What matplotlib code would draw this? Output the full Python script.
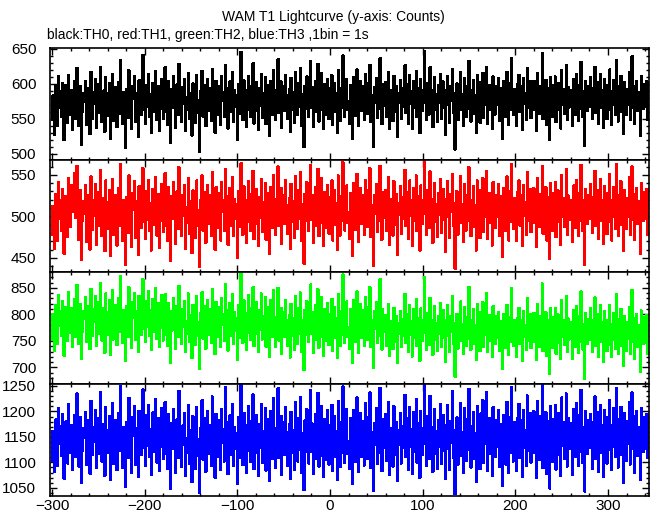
import numpy as np
import matplotlib
matplotlib.use("Agg")
import matplotlib.pyplot as plt
from matplotlib.ticker import MultipleLocator

plt.rcParams['font.family'] = ['Liberation Sans', 'DejaVu Sans']

title = "WAM T1 Lightcurve (y-axis: Counts)"
subtitle = "black:TH0, red:TH1, green:TH2, blue:TH3 ,1bin = 1s"
t_start = -300  # first bin (s)

# counts per 1 s bin (estimated)
th0 = [
    548, 583, 561, 527, 596, 572, 540, 610, 566, 589, 553, 601, 575, 519, 563, 598, 580, 544, 612, 570,
    556, 591, 534, 577, 604, 549, 568, 622, 585, 539, 571, 597, 512, 560, 586, 574, 603, 541, 565, 593,
    579, 528, 617, 562, 550, 588, 571, 606, 537, 582, 599, 558, 624, 567, 545, 576, 590, 531, 609, 573,
    554, 586, 600, 521, 569, 614, 547, 581, 563, 595, 538, 576, 602, 557, 633, 570, 542, 588, 566, 508,
    592, 574, 551, 619, 583, 560, 535, 597, 578, 611, 546, 569, 587, 524, 605, 572, 555, 594, 641, 562,
    580, 543, 598, 567, 613, 552, 585, 529, 575, 601, 560, 589, 618, 548, 571, 596, 533, 582, 607, 564,
    550, 578, 623, 559, 587, 541, 603, 573, 516, 592, 566, 610, 584, 537, 574, 599, 555, 628, 569, 582,
    545, 595, 571, 606, 532, 580, 562, 615, 549, 587, 573, 526, 600, 568, 591, 544, 612, 577, 558, 503,
    589, 564, 618, 553, 576, 598, 539, 583, 607, 561, 594, 572, 547, 621, 566, 585, 530, 604, 579, 556,
    597, 568, 541, 610, 575, 588, 552, 626, 563, 594, 536, 580, 603, 559, 573, 616, 546, 591, 567, 584,
    520, 599, 571, 557, 645, 582, 548, 605, 574, 590, 538, 563, 611, 578, 552, 596, 570, 629, 543, 586,
    561, 602, 579, 534, 593, 568, 614, 551, 587, 575, 609, 542, 566, 598, 583, 525, 604, 572, 556, 619,
    577, 548, 590, 565, 635, 558, 581, 603, 537, 574, 596, 561, 612, 584, 549, 570, 592, 531, 608, 563,
    588, 571, 544, 617, 579, 555, 600, 567, 622, 540, 585, 573, 509, 597, 564, 610, 576, 552, 589, 632,
    566, 595, 538, 581, 604, 559, 573, 628, 546, 590, 562, 615, 578, 535, 599, 571, 556, 607, 583, 549,
    593, 568, 612, 541, 577, 601, 560, 586, 530, 619, 572, 547, 594, 565, 640, 579, 553, 588, 606, 562,
    575, 543, 598, 583, 521, 609, 567, 592, 554, 620, 578, 539, 587, 603, 561, 574, 596, 548, 613, 570,
    557, 601, 579, 627, 545, 584, 566, 510, 595, 573, 608, 551, 589, 564, 636, 577, 542, 599, 568, 585,
    602, 553, 574, 616, 536, 591, 569, 583, 547, 611, 578, 560, 597, 524, 586, 572, 605, 549, 593, 567,
    584, 626, 558, 576, 599, 543, 612, 571, 589, 535, 604, 565, 580, 618, 552, 594, 570, 529, 607, 576,
    561, 590, 647, 573, 548, 601, 582, 556, 623, 567, 591, 538, 574, 609, 563, 585, 545, 598, 572, 614,
    550, 579, 603, 566, 591, 527, 583, 611, 569, 544, 597, 575, 620, 558, 586, 506, 572, 600, 548, 589,
    574, 617, 562, 585, 539, 608, 577, 553, 596, 581, 632, 564, 546, 590, 571, 605, 557, 583, 529, 612,
    591, 568, 544, 602, 579, 615, 551, 587, 570, 624, 543, 576, 598, 562, 589, 535, 610, 573, 556, 596,
    569, 583, 608, 547, 594, 575, 521, 603, 566, 589, 552, 617, 578, 541, 600, 563, 637, 581, 555, 592,
    576, 540, 599, 585, 612, 559, 573, 596, 534, 608, 571, 587, 548, 622, 565, 580, 603, 551, 590, 567,
    604, 562, 578, 533, 615, 584, 557, 597, 572, 643, 549, 586, 568, 605, 541, 593, 576, 519, 609, 571,
    553, 598, 582, 610, 545, 574, 601, 563, 588, 536, 619, 570, 592, 557, 580, 626, 548, 595, 566, 584,
    590, 571, 539, 607, 579, 556, 613, 585, 547, 598, 564, 631, 575, 552, 589, 511, 603, 578, 561, 596,
    567, 609, 584, 550, 593, 572, 624, 558, 581, 602, 543, 576, 614, 565, 590, 537, 606, 573, 585, 549,
    598, 563, 620, 577, 541, 589, 605, 569, 555, 633, 582, 546, 596, 574, 611, 560, 587, 528, 602, 579,
    555, 592, 570, 616, 548, 583, 639, 566, 597, 542, 578, 604, 561, 588, 573, 525, 610, 582, 564, 599,
    581, 567, 603, 548,
]

th1 = [
    478, 512, 493, 461, 527, 504, 470, 541, 497, 519, 482, 533, 506, 455, 490, 524, 511, 475, 546, 500,
    487, 538, 521, 505, 552, 530, 498, 561, 515, 472, 509, 532, 448, 494, 518, 503, 537, 469, 496, 525,
    511, 460, 548, 492, 484, 520, 501, 539, 466, 514, 529, 489, 556, 497, 476, 507, 522, 458, 543, 502,
    485, 517, 531, 452, 499, 545, 478, 513, 494, 526, 465, 506, 534, 488, 563, 501, 471, 519, 495, 441,
    523, 504, 480, 549, 514, 491, 463, 528, 508, 542, 474, 497, 518, 454, 536, 503, 486, 525, 558, 493,
    512, 473, 530, 496, 544, 482, 516, 459, 505, 533, 490, 520, 547, 477, 502, 527, 462, 513, 539, 494,
    481, 509, 552, 488, 518, 470, 535, 503, 446, 524, 497, 541, 515, 467, 504, 530, 485, 559, 499, 512,
    476, 526, 501, 537, 461, 511, 492, 546, 479, 518, 503, 456, 531, 497, 522, 474, 543, 507, 488, 439,
    520, 494, 549, 483, 506, 529, 468, 514, 538, 491, 525, 502, 477, 553, 496, 516, 460, 535, 509, 486,
    528, 498, 471, 541, 505, 519, 482, 557, 493, 524, 466, 510, 534, 489, 503, 547, 476, 521, 497, 515,
    450, 530, 501, 487, 564, 512, 478, 536, 504, 520, 468, 493, 542, 508, 482, 527, 500, 555, 473, 516,
    491, 533, 509, 464, 523, 498, 545, 481, 517, 505, 540, 472, 496, 528, 513, 455, 535, 502, 486, 550,
    507, 478, 521, 495, 560, 488, 511, 534, 467, 504, 526, 491, 543, 514, 479, 500, 522, 461, 539, 493,
    518, 501, 474, 548, 509, 485, 531, 497, 553, 470, 515, 503, 443, 527, 494, 541, 506, 482, 519, 562,
    496, 525, 468, 511, 535, 489, 503, 557, 476, 520, 492, 546, 508, 465, 529, 501, 486, 538, 513, 479,
    523, 498, 543, 471, 507, 532, 490, 516, 460, 549, 502, 477, 524, 495, 565, 509, 483, 518, 537, 492,
    505, 473, 528, 513, 452, 540, 497, 522, 484, 551, 508, 469, 517, 534, 491, 504, 526, 478, 544, 500,
    487, 531, 509, 558, 475, 514, 496, 440, 525, 503, 539, 481, 519, 494, 561, 507, 472, 529, 498, 515,
    532, 483, 504, 547, 466, 521, 499, 513, 477, 542, 508, 490, 527, 454, 516, 502, 536, 479, 523, 497,
    514, 556, 488, 506, 529, 473, 543, 501, 519, 465, 534, 495, 510, 549, 482, 524, 500, 459, 537, 506,
    491, 520, 566, 503, 478, 531, 512, 486, 554, 497, 521, 468, 504, 540, 493, 515, 475, 528, 502, 545,
    480, 509, 533, 496, 521, 457, 513, 542, 499, 474, 527, 505, 551, 488, 516, 437, 502, 530, 478, 519,
    504, 548, 492, 515, 469, 539, 507, 483, 526, 511, 559, 494, 476, 520, 501, 536, 487, 513, 459, 543,
    521, 498, 474, 532, 509, 546, 481, 517, 500, 555, 473, 506, 528, 492, 519, 465, 541, 503, 486, 526,
    499, 513, 539, 477, 524, 505, 451, 534, 496, 519, 482, 548, 508, 471, 530, 493, 563, 511, 485, 522,
    506, 470, 529, 515, 543, 489, 503, 526, 464, 538, 501, 517, 478, 553, 495, 510, 533, 481, 520, 497,
    534, 492, 508, 463, 546, 514, 487, 527, 502, 560, 479, 516, 498, 535, 471, 523, 506, 449, 540, 501,
    483, 528, 512, 541, 475, 504, 531, 493, 518, 466, 550, 500, 522, 487, 510, 557, 478, 525, 496, 514,
    520, 501, 469, 537, 509, 486, 544, 515, 477, 528, 494, 562, 505, 482, 519, 442, 533, 508, 491, 526,
    497, 539, 514, 480, 523, 502, 555, 488, 511, 532, 473, 506, 545, 495, 520, 467, 536, 503, 515, 479,
    528, 493, 551, 507, 471, 519, 535, 499, 485, 563, 512, 476, 526, 504, 542, 490, 517, 458, 532, 509,
    485, 522, 500, 547, 478, 513, 560, 496, 527, 472, 508, 534, 491, 518, 503, 455, 540, 512, 494, 529,
    511, 497, 533, 478,
]

th2 = [
    752, 801, 769, 731, 818, 790, 745, 836, 778, 806, 760, 825, 793, 722, 771, 814, 798, 750, 842, 783,
    765, 811, 739, 796, 829, 757, 780, 855, 803, 744, 787, 820, 716, 768, 806, 791, 832, 748, 773, 815,
    797, 735, 848, 770, 759, 809, 786, 834, 741, 800, 823, 764, 859, 777, 751, 793, 812, 728, 839, 788,
    762, 805, 826, 724, 781, 845, 753, 798, 774, 818, 742, 790, 830, 767, 872, 784, 747, 808, 779, 713,
    815, 789, 758, 851, 801, 770, 737, 823, 794, 840, 752, 782, 806, 729, 835, 786, 761, 819, 866, 772,
    799, 748, 824, 777, 843, 759, 807, 733, 788, 829, 768, 812, 850, 754, 785, 821, 738, 803, 837, 774,
    751, 784, 838, 762, 797, 740, 822, 779, 708, 806, 770, 831, 794, 735, 781, 816, 757, 853, 773, 792,
    744, 810, 776, 824, 729, 788, 764, 839, 749, 799, 780, 718, 818, 771, 807, 742, 834, 785, 759, 697,
    802, 768, 842, 754, 783, 815, 735, 791, 826, 762, 809, 777, 746, 848, 770, 796, 725, 823, 787, 757,
    813, 772, 738, 831, 780, 800, 751, 857, 765, 808, 732, 788, 821, 759, 778, 838, 745, 805, 769, 793,
    714, 817, 776, 756, 879, 790, 747, 826, 779, 803, 734, 766, 836, 783, 752, 812, 774, 851, 740, 795,
    763, 823, 786, 730, 808, 771, 839, 753, 797, 781, 832, 739, 768, 814, 792, 720, 827, 778, 757, 846,
    777, 738, 795, 762, 850, 751, 784, 812, 726, 771, 805, 758, 826, 790, 741, 767, 799, 719, 820, 760,
    793, 770, 733, 834, 781, 745, 811, 764, 841, 729, 789, 773, 695, 808, 761, 825, 776, 748, 797, 856,
    763, 804, 727, 785, 817, 752, 771, 847, 737, 800, 757, 833, 779, 722, 809, 769, 750, 822, 787, 742,
    801, 766, 829, 731, 778, 814, 755, 792, 718, 838, 772, 740, 806, 762, 875, 781, 746, 796, 824, 758,
    775, 735, 810, 788, 709, 827, 764, 801, 748, 843, 779, 728, 794, 819, 756, 773, 807, 741, 832, 769,
    752, 813, 782, 851, 738, 790, 763, 700, 806, 772, 823, 746, 797, 760, 866, 778, 734, 809, 767, 791,
    798, 741, 766, 820, 722, 787, 761, 779, 735, 812, 770, 749, 796, 708, 783, 764, 806, 738, 791, 759,
    780, 838, 746, 769, 800, 729, 817, 762, 788, 721, 809, 755, 776, 828, 740, 793, 761, 713, 811, 767,
    751, 789, 870, 765, 734, 802, 778, 743, 831, 758, 790, 724, 768, 815, 753, 784, 731, 797, 763, 821,
    739, 775, 808, 756, 790, 711, 779, 818, 760, 730, 796, 767, 835, 745, 784, 683, 763, 801, 736, 787,
    766, 824, 750, 782, 725, 813, 771, 741, 795, 777, 852, 754, 733, 789, 763, 810, 745, 779, 714, 819,
    787, 759, 731, 805, 774, 823, 739, 783, 762, 840, 730, 768, 799, 751, 786, 720, 815, 765, 744, 797,
    755, 773, 805, 731, 788, 762, 698, 800, 752, 783, 737, 818, 768, 724, 795, 749, 849, 775, 740, 789,
    764, 720, 793, 776, 812, 744, 760, 790, 713, 806, 757, 779, 733, 830, 751, 771, 801, 737, 785, 753,
    803, 748, 767, 714, 820, 777, 739, 796, 760, 858, 731, 782, 756, 804, 722, 790, 765, 688, 811, 758,
    737, 794, 772, 812, 726, 761, 800, 747, 784, 716, 826, 757, 789, 742, 769, 835, 730, 792, 753, 776,
    786, 758, 717, 808, 767, 739, 816, 777, 728, 797, 749, 843, 763, 734, 782, 678, 803, 768, 744, 791,
    752, 811, 778, 729, 789, 757, 832, 741, 771, 800, 720, 763, 817, 748, 785, 711, 806, 759, 776, 731,
    790, 743, 817, 765, 720, 781, 802, 752, 735, 838, 773, 726, 791, 760, 810, 740, 778, 703, 797, 766,
    731, 785, 754, 813, 725, 770, 846, 749, 792, 716, 763, 801, 739, 780, 758, 692, 807, 771, 745, 794,
    768, 747, 799, 726,
]

th3 = [
    1103, 1162, 1127, 1081, 1184, 1145, 1093, 1206, 1136, 1171, 1112, 1195, 1151, 1068, 1121, 1180, 1158, 1098, 1214, 1140,
    1118, 1173, 1086, 1154, 1193, 1110, 1138, 1235, 1166, 1092, 1143, 1188, 1059, 1123, 1167, 1148, 1199, 1095, 1125, 1182,
    1155, 1078, 1221, 1130, 1114, 1169, 1141, 1203, 1089, 1160, 1186, 1116, 1238, 1134, 1101, 1149, 1175, 1074, 1209, 1144,
    1119, 1164, 1191, 1065, 1137, 1216, 1097, 1157, 1129, 1183, 1085, 1146, 1196, 1122, 1250, 1139, 1090, 1170, 1132, 1052,
    1178, 1150, 1108, 1226, 1161, 1124, 1079, 1189, 1153, 1211, 1096, 1137, 1168, 1071, 1201, 1142, 1115, 1181, 1243, 1128,
    1159, 1094, 1192, 1133, 1213, 1111, 1165, 1076, 1147, 1198, 1120, 1174, 1224, 1100, 1141, 1187, 1083, 1163, 1207, 1131,
    1106, 1144, 1218, 1117, 1159, 1087, 1194, 1138, 1048, 1177, 1126, 1204, 1156, 1080, 1139, 1185, 1109, 1240, 1132, 1152,
    1091, 1172, 1135, 1196, 1073, 1147, 1118, 1212, 1097, 1163, 1140, 1061, 1190, 1127, 1176, 1088, 1208, 1145, 1113, 1041,
    1168, 1124, 1222, 1105, 1143, 1186, 1082, 1150, 1201, 1116, 1173, 1137, 1093, 1229, 1129, 1160, 1070, 1195, 1148, 1110,
    1183, 1131, 1086, 1205, 1139, 1166, 1102, 1247, 1121, 1178, 1077, 1148, 1192, 1114, 1136, 1215, 1094, 1170, 1127, 1157,
    1057, 1188, 1134, 1108, 1252, 1155, 1095, 1197, 1141, 1172, 1079, 1123, 1210, 1146, 1101, 1180, 1132, 1233, 1087, 1163,
    1119, 1193, 1149, 1074, 1175, 1128, 1214, 1099, 1161, 1142, 1206, 1084, 1125, 1184, 1152, 1063, 1200, 1137, 1107, 1226,
    1140, 1090, 1167, 1122, 1245, 1109, 1153, 1191, 1076, 1133, 1179, 1115, 1209, 1160, 1093, 1130, 1174, 1068, 1199, 1118,
    1164, 1135, 1085, 1218, 1145, 1102, 1187, 1124, 1228, 1080, 1158, 1137, 1046, 1182, 1120, 1204, 1143, 1098, 1169, 1241,
    1121, 1176, 1078, 1151, 1194, 1106, 1134, 1236, 1092, 1170, 1113, 1211, 1147, 1072, 1185, 1131, 1104, 1202, 1156, 1096,
    1173, 1127, 1213, 1084, 1144, 1190, 1110, 1162, 1066, 1220, 1138, 1091, 1178, 1119, 1249, 1148, 1099, 1166, 1205, 1116,
    1142, 1088, 1186, 1155, 1058, 1203, 1123, 1175, 1101, 1227, 1146, 1081, 1161, 1196, 1111, 1136, 1181, 1094, 1216, 1132,
    1107, 1189, 1150, 1237, 1089, 1159, 1121, 1044, 1177, 1135, 1207, 1097, 1165, 1118, 1246, 1145, 1083, 1184, 1129, 1160,
    1195, 1103, 1138, 1219, 1075, 1168, 1126, 1152, 1092, 1210, 1147, 1114, 1179, 1064, 1163, 1134, 1197, 1098, 1171, 1128,
    1158, 1232, 1111, 1143, 1186, 1085, 1209, 1131, 1166, 1077, 1198, 1120, 1151, 1225, 1100, 1176, 1133, 1070, 1201, 1139,
    1115, 1167, 1254, 1137, 1093, 1190, 1155, 1106, 1230, 1124, 1170, 1082, 1140, 1204, 1117, 1161, 1088, 1183, 1130, 1214,
    1097, 1148, 1193, 1122, 1172, 1067, 1157, 1212, 1127, 1086, 1181, 1139, 1240, 1108, 1164, 1038, 1135, 1188, 1095, 1169,
    1138, 1217, 1113, 1160, 1080, 1206, 1149, 1103, 1185, 1154, 1244, 1125, 1090, 1171, 1134, 1199, 1107, 1157, 1062, 1211,
    1167, 1129, 1087, 1196, 1150, 1222, 1099, 1162, 1136, 1238, 1084, 1141, 1187, 1116, 1165, 1073, 1208, 1143, 1110, 1182,
    1131, 1154, 1202, 1091, 1175, 1142, 1054, 1193, 1123, 1166, 1096, 1218, 1148, 1079, 1189, 1119, 1248, 1156, 1102, 1178,
    1145, 1083, 1186, 1160, 1214, 1109, 1137, 1182, 1071, 1203, 1128, 1163, 1094, 1231, 1122, 1151, 1196, 1100, 1174, 1133,
    1200, 1118, 1147, 1069, 1221, 1164, 1105, 1190, 1139, 1251, 1089, 1168, 1130, 1198, 1078, 1180, 1144, 1049, 1210, 1135,
    1101, 1184, 1153, 1213, 1086, 1140, 1197, 1115, 1169, 1074, 1227, 1132, 1179, 1107, 1148, 1235, 1092, 1187, 1126, 1158,
    1176, 1137, 1076, 1205, 1152, 1110, 1216, 1165, 1093, 1192, 1121, 1242, 1146, 1099, 1170, 1043, 1201, 1155, 1117, 1183,
    1128, 1194, 1161, 1088, 1178, 1138, 1229, 1106, 1150, 1199, 1081, 1143, 1212, 1119, 1172, 1072, 1203, 1134, 1157, 1098,
    1189, 1124, 1223, 1159, 1085, 1174, 1206, 1131, 1111, 1245, 1163, 1090, 1185, 1141, 1209, 1114, 1167, 1060, 1196, 1149,
    1103, 1181, 1136, 1219, 1096, 1160, 1237, 1126, 1191, 1080, 1145, 1201, 1113, 1170, 1139, 1065, 1207, 1164, 1120, 1188,
    1152, 1127, 1195, 1108,
]

series = [th0, th1, th2, th3]
colors = ["black", "red", "#00ff00", "blue"]
ylims = [(491, 651), (433, 568), (669, 880), (1034, 1254)]
xlim = (-302, 344)

fig, axes = plt.subplots(4, 1, sharex=True, figsize=(6.52, 5.15), dpi=100)
fig.subplots_adjust(left=0.077, right=0.995, top=0.907, bottom=0.037, hspace=0)

for ax, y, c, yl in zip(axes, series, colors, ylims):
    t = t_start + np.arange(len(y))
    ax.plot(t, y, color=c, lw=1.0, drawstyle="steps-mid", antialiased=False)
    ax.set_xlim(*xlim)
    ax.set_ylim(*yl)
    ax.yaxis.set_major_locator(MultipleLocator(50))
    ax.yaxis.set_minor_locator(MultipleLocator(10))
    ax.xaxis.set_major_locator(MultipleLocator(100))
    ax.xaxis.set_minor_locator(MultipleLocator(20))
    ax.tick_params(which="both", direction="in", top=True, right=True, width=1.0,
                   labelsize=11, colors="black")
    ax.tick_params(which="major", length=5)
    ax.tick_params(which="minor", length=2.5)
    ax.tick_params(axis="x", pad=2)
    ax.tick_params(axis="y", pad=10)
    for s in ax.spines.values():
        s.set_linewidth(1.2)

fig.text(0.512, 0.967, title, ha="center", va="center", fontsize=10)
fig.text(0.072, 0.932, subtitle, ha="left", va="center", fontsize=10)

fig.savefig("out.png", dpi=100)
